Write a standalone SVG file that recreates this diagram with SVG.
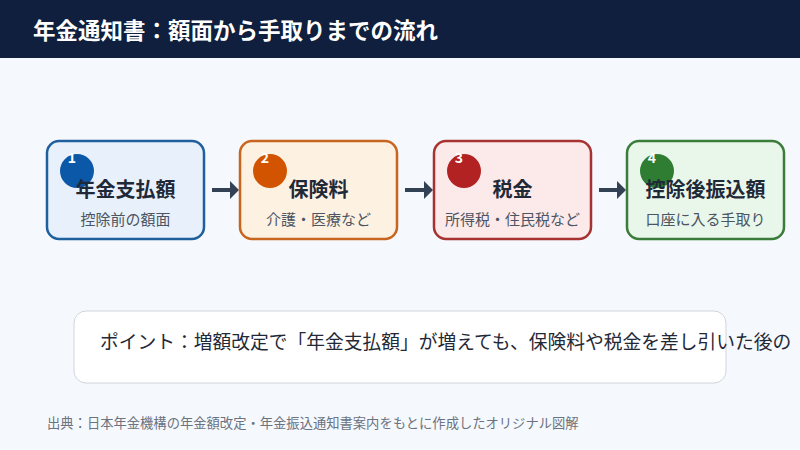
<svg xmlns="http://www.w3.org/2000/svg" width="800" height="450" viewBox="0 0 800 450">
<defs>
<style>
.cjk{font-family:"Noto Sans CJK JP","Noto Sans",sans-serif}
.box{stroke-width:2.5}
.ttl{font-size:20px;font-weight:700;fill:#1f2937;text-anchor:middle}
.sub{font-size:15px;fill:#4b5563;text-anchor:middle}
.num{font-size:14px;font-weight:700;fill:#ffffff;text-anchor:middle}
.conn{stroke:#334155;stroke-width:4;fill:none}
</style>
<marker id="ah" markerUnits="userSpaceOnUse" viewBox="0 0 9 18" markerWidth="9" markerHeight="18" refX="3" refY="9" orient="auto">
<path d="M0,0 L9,9 L0,18 Z" fill="#334155"/>
</marker>
</defs>
<rect x="0" y="0" width="800" height="450" fill="#f5f8fc"/>
<g id="header">
<rect x="0" y="0" width="800" height="58" fill="#0f1f3d"/>
<text class="cjk" x="33" y="39" font-size="22.5" font-weight="700" fill="#ffffff">年金通知書：額面から手取りまでの流れ</text>
</g>
<g id="connectors">
<line class="conn" x1="212" y1="190" x2="233" y2="190" marker-end="url(#ah)"/>
<line class="conn" x1="405" y1="190" x2="427" y2="190" marker-end="url(#ah)"/>
<line class="conn" x1="599" y1="190" x2="620" y2="190" marker-end="url(#ah)"/>
</g>
<g id="node1">
<rect class="box" x="47" y="141" width="157" height="98" rx="12" fill="#e8f1fb" stroke="#1f5f9e"/>
<circle cx="77" cy="171" r="17" fill="#0b57a8"/>
<text class="cjk num" x="72" y="163">1</text>
<text class="cjk ttl" x="125.5" y="197">年金支払額</text>
<text class="cjk sub" x="125.5" y="225">控除前の額面</text>
</g>
<g id="node2">
<rect class="box" x="240" y="141" width="157" height="98" rx="12" fill="#fdf1e2" stroke="#c8661f"/>
<circle cx="270" cy="171" r="17" fill="#d35400"/>
<text class="cjk num" x="265" y="163">2</text>
<text class="cjk ttl" x="318.5" y="197">保険料</text>
<text class="cjk sub" x="318.5" y="225">介護・医療など</text>
</g>
<g id="node3">
<rect class="box" x="434" y="141" width="157" height="98" rx="12" fill="#fce9e9" stroke="#a83232"/>
<circle cx="464" cy="171" r="17" fill="#b22222"/>
<text class="cjk num" x="459" y="163">3</text>
<text class="cjk ttl" x="512.5" y="197">税金</text>
<text class="cjk sub" x="512.5" y="225">所得税・住民税など</text>
</g>
<g id="node4">
<rect class="box" x="627" y="141" width="157" height="98" rx="12" fill="#e9f6ea" stroke="#3a7d3a"/>
<circle cx="657" cy="171" r="17" fill="#2e7d32"/>
<text class="cjk num" x="652" y="163">4</text>
<text class="cjk ttl" x="705.5" y="197">控除後振込額</text>
<text class="cjk sub" x="705.5" y="225">口座に入る手取り</text>
</g>
<g id="point">
<rect x="74" y="311" width="652" height="72" rx="12" fill="#ffffff" stroke="#d1d5db" stroke-width="1"/>
<text class="cjk" x="100" y="349" font-size="18.75" fill="#1f2937">ポイント：増額改定で「年金支払額」が増えても、保険料や税金を差し引いた後の</text>
</g>
<text class="cjk" x="47" y="428" font-size="13.3" fill="#6b7280">出典：日本年金機構の年金額改定・年金振込通知書案内をもとに作成したオリジナル図解</text>
</svg>
